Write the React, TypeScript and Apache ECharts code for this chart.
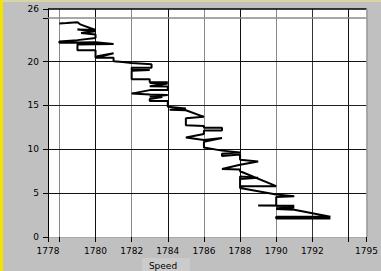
import React, { useEffect, useRef } from "react";
import * as echarts from "echarts";

// Speed (x) and value (y) samples
const speedValues = [
  1778, 1778.4, 1779, 1779.15, 1780, 1779, 1780, 1779.2, 1780, 1780,
  1779, 1778, 1778, 1780, 1781, 1779, 1779, 1780, 1780, 1781,
  1780.1, 1780.1, 1781, 1781, 1781.5, 1782, 1783.1, 1783.1, 1782, 1782,
  1783, 1782, 1782, 1783, 1783, 1784, 1783, 1784, 1783, 1784,
  1784, 1783, 1782, 1783, 1784, 1783, 1783.7, 1783, 1783, 1784,
  1784, 1785, 1784.1, 1785, 1786, 1785, 1785, 1786, 1786, 1787,
  1787, 1786, 1786, 1785, 1786, 1787, 1786, 1786, 1787, 1788,
  1787, 1787, 1788, 1788, 1789, 1788, 1787, 1788, 1788, 1790,
  1788, 1788, 1789, 1788, 1788, 1790, 1791, 1790, 1790, 1789,
  1791, 1790, 1791, 1790, 1791, 1793, 1790, 1790, 1793,
];
const levelValues = [
  24.35, 24.4, 24.5, 24.25, 23.6, 23.65, 23.45, 23.25, 23.1, 22.7,
  22.45, 22.3, 22.15, 22.2, 22.0, 21.95, 21.3, 21.3, 20.45, 20.95,
  20.6, 20.45, 20.45, 20.05, 19.95, 19.85, 19.7, 19.3, 19.3, 19.05,
  19.05, 18.95, 18.0, 18.0, 17.65, 17.65, 17.55, 17.5, 17.2, 17.15,
  16.75, 16.75, 16.35, 16.25, 16.2, 16.0, 15.95, 15.75, 15.5, 15.5,
  14.85, 14.65, 14.5, 14.45, 13.7, 13.55, 12.75, 12.65, 12.45, 12.45,
  12.15, 12.15, 11.75, 11.35, 11.05, 11.3, 10.85, 10.2, 9.85, 9.65,
  9.5, 9.25, 9.4, 8.8, 8.6, 8.25, 7.75, 7.7, 7.5, 5.8,
  5.8, 6.9, 6.75, 6.6, 5.6, 4.85, 4.65, 4.55, 3.6, 3.6,
  3.55, 3.45, 3.35, 3.2, 3.1, 2.3, 2.3, 2.1, 2.1,
];

const xMin = 1777.37;
const xMax = 1795;
const xTickValues = [1777.37, 1778, 1780, 1782, 1784, 1786, 1788, 1790, 1792, 1794, 1795];
const xLabelValues = [1777.37, 1780, 1782, 1784, 1786, 1788, 1790, 1792, 1795];
const xLabelTexts = ["1778", "1780", "1782", "1784", "1786", "1788", "1790", "1792", "1795"];
const yMin = 0;
const yMax = 26;
const yTickValues = [0, 5, 10, 15, 20, 25, 26];
const yLabelValues = [0, 5, 10, 15, 20, 26];
const xGridLines = [1778, 1780, 1782, 1784, 1786, 1788, 1790, 1792, 1794];
const xGridColors = ["#8a8a8a", "#111", "#8a8a8a", "#111", "#8a8a8a", "#111", "#8a8a8a", "#333", "#111"];
const yGridLines = [5, 10, 15, 20, 25];
const yGridColors = ["#111", "#111", "#222", "#111", "#8a8a8a"];
const xAxisName = "Speed";

export default function App() {
  const ref = useRef<HTMLDivElement>(null);
  useEffect(() => {
    if (!ref.current) return;
    const chart = echarts.init(ref.current, undefined, { renderer: "svg" });
    const font = "DejaVu Sans";
    const gridMarks: any[] = [];
    xGridLines.forEach((v, i) =>
      gridMarks.push({ xAxis: v, lineStyle: { color: xGridColors[i], width: 1, type: "solid" } })
    );
    yGridLines.forEach((v, i) =>
      gridMarks.push({ yAxis: v, lineStyle: { color: yGridColors[i], width: i === 4 ? 1.5 : 1, type: "solid" } })
    );
    gridMarks.push({ yAxis: 26, lineStyle: { color: "#000", width: 1.5, type: "solid" } });
    gridMarks.push({ xAxis: xMax, lineStyle: { color: "#9a9a9a", width: 1.5, type: "solid" } });

    chart.setOption({
      animation: false,
      backgroundColor: "#c0c0c0",
      grid: {
        left: 48,
        top: 9,
        right: 13,
        bottom: 34,
        show: true,
        backgroundColor: "#ffffff",
        borderWidth: 0,
      },
      xAxis: {
        type: "value",
        min: xMin,
        max: xMax,
        axisLine: { show: true, lineStyle: { color: "#a8a8a8", width: 1 } },
        axisTick: {
          show: true,
          length: 5,
          customValues: xTickValues,
          lineStyle: { color: "#000", width: 1 },
        },
        axisLabel: {
          show: true,
          customValues: xLabelValues,
          margin: 9,
          color: "#000",
          fontFamily: font,
          fontSize: 9,
          formatter: (v: number) => {
            const i = xLabelValues.findIndex((x) => Math.abs(x - v) < 0.01);
            return i >= 0 ? xLabelTexts[i] : "";
          },
        },
        splitLine: { show: false },
      },
      yAxis: {
        type: "value",
        min: yMin,
        max: yMax,
        axisLine: { show: true, lineStyle: { color: "#000", width: 1 } },
        axisTick: {
          show: true,
          length: 5,
          customValues: yTickValues,
          lineStyle: { color: "#000", width: 1 },
        },
        axisLabel: {
          show: true,
          customValues: yLabelValues,
          margin: 9,
          color: "#000",
          fontFamily: font,
          fontSize: 9,
        },
        splitLine: { show: false },
      },
      graphic: [
        { type: "rect", shape: { x: 0, y: 0, width: 3, height: 271 }, style: { fill: "#f2e400" }, z: 100 },
        { type: "rect", shape: { x: 3, y: 0, width: 378, height: 2 }, style: { fill: "#d8d6a4" }, z: 100 },
        { type: "rect", shape: { x: 142, y: 258, width: 48, height: 13 }, style: { fill: "#cbcbcb" }, z: 1 },
        {
          type: "text",
          x: 163,
          y: 266,
          style: {
            text: xAxisName,
            fill: "#000",
            font: `9px "${font}"`,
            align: "center",
            verticalAlign: "middle",
          },
          z: 2,
        },
      ],
      series: [
        {
          type: "line",
          data: [],
          z: 1,
          silent: true,
          markLine: {
            silent: true,
            symbol: ["none", "none"],
            label: { show: false },
            animation: false,
            data: gridMarks,
          },
        },
        {
          type: "line",
          z: 5,
          data: speedValues.map((s, i) => [s, levelValues[i]]),
          showSymbol: false,
          symbol: "none",
          lineStyle: { color: "#000", width: 2 },
        },
      ],
    });
    return () => chart.dispose();
  }, []);
  return (
    <div
      ref={ref}
      style={{ position: "fixed", left: 0, top: 0, width: 381, height: 271 }}
    />
  );
}
